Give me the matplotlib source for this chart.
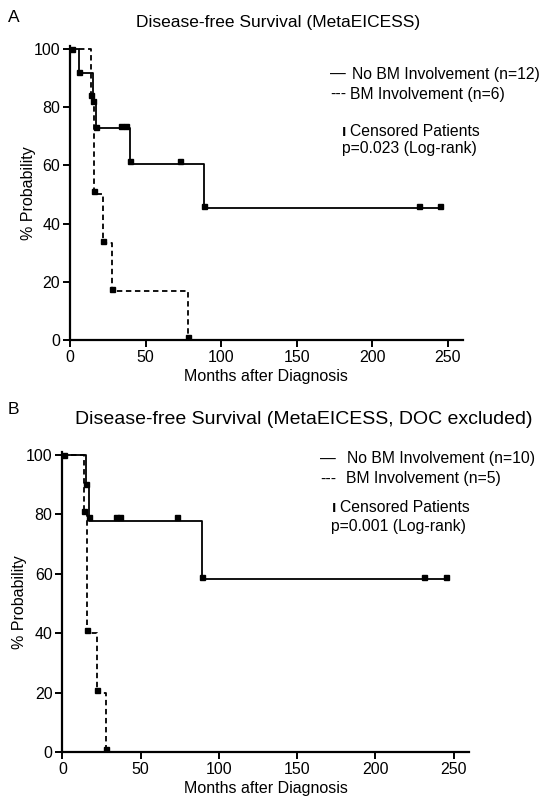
import matplotlib.pyplot as plt

plt.rcParams['font.family'] = ['Liberation Sans', 'DejaVu Sans']

# ---- Panel A data (MetaEICESS) ----
a_no_bm_t = [0, 6, 15, 17, 40, 89, 245]
a_no_bm_s = [100, 91.7, 82.5, 72.7, 60.6, 45.5, 45.5]
a_no_bm_mark_t = [1, 6, 14, 15, 17, 34, 37, 40, 73, 89, 231, 245]
a_no_bm_mark_s = [100, 92, 84, 82, 73, 73.5, 73.5, 61.5, 61.5, 46, 46, 46]

a_bm_t = [0, 14, 16, 22, 28, 78]
a_bm_s = [100, 83.3, 50, 33.3, 16.7, 0]
a_bm_mark_t = [16, 22, 28, 78]
a_bm_mark_s = [51, 34, 17.5, 1]

# ---- Panel B data (DOC excluded) ----
b_no_bm_t = [0, 15, 17, 89, 245]
b_no_bm_s = [100, 90, 77.8, 58.3, 58.3]
b_no_bm_mark_t = [1, 15, 17, 34, 37, 73, 89, 231, 245]
b_no_bm_mark_s = [100, 90, 79, 79, 79, 79, 59, 59, 59]

b_bm_t = [0, 14, 16, 22, 28]
b_bm_s = [100, 80, 40, 20, 0]
b_bm_mark_t = [14, 16, 22, 28]
b_bm_mark_s = [81, 41, 21, 1]

x_ticks = [0, 50, 100, 150, 200, 250]
y_ticks = [0, 20, 40, 60, 80, 100]

W, H = 550, 808


def fx(px):
    return px / W


def fy(py):
    return 1 - py / H


def draw_panel(ax, solid, dashed, ylab_x, xlab_y):
    (st, ss, smt, sms) = solid
    (dt, ds, dmt, dms) = dashed
    ax.step(dt, ds, where='post', color='black', lw=1.3, ls=(0, (3, 2)))
    ax.step(st, ss, where='post', color='black', lw=1.3)
    ax.plot(smt, sms, 's', color='black', ms=3.6)
    ax.plot(dmt, dms, 's', color='black', ms=3.6)

    ax.set_xlim(0, 260)
    ax.set_ylim(0, 101)
    ax.set_xticks(x_ticks)
    ax.set_yticks(y_ticks)
    for s in ['top', 'right']:
        ax.spines[s].set_visible(False)
    for s in ['left', 'bottom']:
        ax.spines[s].set_linewidth(1.6)
    ax.tick_params(width=1.4, length=5, labelsize=11.5, pad=2)
    ax.set_xlabel('Months after Diagnosis', fontsize=11.5)
    ax.set_ylabel('% Probability', fontsize=11.5)
    ax.yaxis.set_label_coords(ylab_x, 0.5)
    ax.xaxis.set_label_coords(0.5, xlab_y)


fig = plt.figure(figsize=(5.5, 8.08), dpi=100)

axA = fig.add_axes([0.1273, 0.5792, 0.714, 0.364])
draw_panel(axA, (a_no_bm_t, a_no_bm_s, a_no_bm_mark_t, a_no_bm_mark_s),
           (a_bm_t, a_bm_s, a_bm_mark_t, a_bm_mark_s), -0.086, -0.1)

axB = fig.add_axes([0.1133, 0.0689, 0.74, 0.372])
draw_panel(axB, (b_no_bm_t, b_no_bm_s, b_no_bm_mark_t, b_no_bm_mark_s),
           (b_bm_t, b_bm_s, b_bm_mark_t, b_bm_mark_s), -0.086, -0.095)

# panel letters and titles
fig.text(fx(8), fy(17), 'A', fontsize=12.5, va='center')
fig.text(fx(278), fy(22), 'Disease-free Survival (MetaEICESS)', fontsize=12.5,
         ha='center', va='center')
fig.text(fx(8), fy(410), 'B', fontsize=12.5, va='center')
fig.text(fx(304), fy(419), 'Disease-free Survival (MetaEICESS, DOC excluded)',
         fontsize=14, ha='center', va='center')

# legend-like text blocks, panel A
fs = 11.3
fig.text(fx(330), fy(74), '—', fontsize=fs, va='center')
fig.text(fx(352), fy(74), 'No BM Involvement (n=12)', fontsize=fs, va='center')
fig.text(fx(330), fy(94), '---', fontsize=fs, va='center')
fig.text(fx(350), fy(94), 'BM Involvement (n=6)', fontsize=fs, va='center')
fig.text(fx(342), fy(131), 'ı', fontsize=fs, va='center', fontweight='bold')
fig.text(fx(350), fy(131), 'Censored Patients', fontsize=fs, va='center')
fig.text(fx(342), fy(148), 'p=0.023 (Log-rank)', fontsize=fs, va='center')

# legend-like text blocks, panel B
fig.text(fx(320), fy(459), '—', fontsize=fs, va='center')
fig.text(fx(347), fy(459), 'No BM Involvement (n=10)', fontsize=fs, va='center')
fig.text(fx(320), fy(479), '---', fontsize=fs, va='center')
fig.text(fx(346), fy(479), 'BM Involvement (n=5)', fontsize=fs, va='center')
fig.text(fx(332), fy(508), 'ı', fontsize=fs, va='center', fontweight='bold')
fig.text(fx(340), fy(508), 'Censored Patients', fontsize=fs, va='center')
fig.text(fx(331), fy(527), 'p=0.001 (Log-rank)', fontsize=fs, va='center')

fig.savefig('out.png', dpi=100)
